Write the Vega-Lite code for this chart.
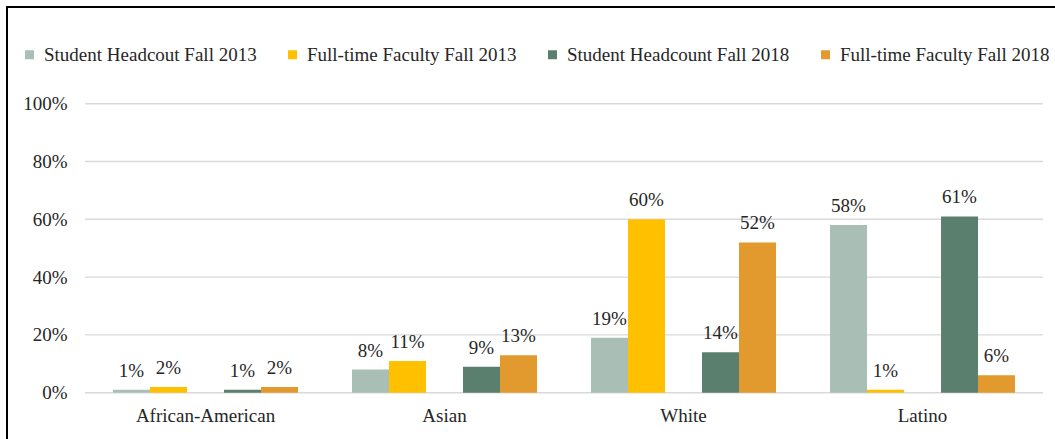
{
  "$schema": "https://vega.github.io/schema/vega-lite/v6.json",
  "width": 1060,
  "height": 440,
  "padding": {"left": 7, "top": 7, "right": 0, "bottom": 0},
  "background": "white",
  "config": {
    "font": "Liberation Serif, DejaVu Serif, serif",
    "view": {"stroke": "black", "strokeWidth": 2}
  },
  "datasets": {
    "grid": [{"v": 0}, {"v": 0.2}, {"v": 0.4}, {"v": 0.6}, {"v": 0.8}, {"v": 1.0}],
    "main": [
      {"group": "African-American", "series": "Student Headcout Fall 2013", "value": 0.01},
      {"group": "African-American", "series": "Full-time Faculty Fall 2013", "value": 0.02},
      {"group": "African-American", "series": "Student Headcount Fall 2018", "value": 0.01},
      {"group": "African-American", "series": "Full-time Faculty Fall 2018", "value": 0.02},
      {"group": "Asian", "series": "Student Headcout Fall 2013", "value": 0.08},
      {"group": "Asian", "series": "Full-time Faculty Fall 2013", "value": 0.11},
      {"group": "Asian", "series": "Student Headcount Fall 2018", "value": 0.09},
      {"group": "Asian", "series": "Full-time Faculty Fall 2018", "value": 0.13},
      {"group": "White", "series": "Student Headcout Fall 2013", "value": 0.19},
      {"group": "White", "series": "Full-time Faculty Fall 2013", "value": 0.60},
      {"group": "White", "series": "Student Headcount Fall 2018", "value": 0.14},
      {"group": "White", "series": "Full-time Faculty Fall 2018", "value": 0.52},
      {"group": "Latino", "series": "Student Headcout Fall 2013", "value": 0.58},
      {"group": "Latino", "series": "Full-time Faculty Fall 2013", "value": 0.01},
      {"group": "Latino", "series": "Student Headcount Fall 2018", "value": 0.61},
      {"group": "Latino", "series": "Full-time Faculty Fall 2018", "value": 0.06}
    ]
  },
  "layer": [
    {
      "data": {"name": "grid"},
      "mark": {"type": "rule", "color": "#d9d9d9", "strokeWidth": 1.4},
      "encoding": {
        "y": {
          "field": "v", "type": "quantitative",
          "scale": {"domain": [-0.1879, 1.3346], "nice": false, "zero": false},
          "axis": {
            "values": [0, 0.2, 0.4, 0.6, 0.8, 1.0], "format": ".0%", "grid": false,
            "domain": false, "ticks": false, "labelPadding": 0, "offset": -60,
            "labelFontSize": 19, "labelColor": "#262626", "labelFont": "Liberation Serif, DejaVu Serif, serif", "title": null
          }
        },
        "x": {"datum": 0, "type": "quantitative", "scale": {"domain": [-0.0814, 1.0251], "nice": false, "zero": false}, "axis": null},
        "x2": {"datum": 1}
      }
    },
    {
      "data": {"name": "main"},
      "layer": [
        {
          "mark": {"type": "bar"},
          "encoding": {
            "x": {
              "field": "group", "type": "nominal",
              "sort": ["African-American", "Asian", "White", "Latino"],
              "scale": {"paddingInner": 0.2259, "paddingOuter": 0.3305, "align": 0.671},
              "axis": {
                "orient": "bottom", "offset": -54.3, "domain": false, "ticks": false,
                "labelPadding": 14, "labelFontSize": 19, "labelAngle": 0,
                "labelColor": "#262626", "labelFont": "Liberation Serif, DejaVu Serif, serif", "title": null
              }
            },
            "xOffset": {
              "field": "series", "type": "nominal",
              "scale": {"domain": ["Student Headcout Fall 2013", "Full-time Faculty Fall 2013", "gap", "Student Headcount Fall 2018", "Full-time Faculty Fall 2018"], "paddingInner": 0, "paddingOuter": 0}
            },
            "y": {"field": "value", "type": "quantitative", "scale": {"domain": [-0.1879, 1.3346], "nice": false, "zero": false}},
            "y2": {"datum": 0},
            "color": {
              "field": "series", "type": "nominal",
              "scale": {
                "domain": ["Student Headcout Fall 2013", "Full-time Faculty Fall 2013", "Student Headcount Fall 2018", "Full-time Faculty Fall 2018"],
                "range": ["#a9bfb6", "#ffc000", "#5b7f6f", "#e2992d"]
              },
              "legend": {
                "orient": "none", "legendX": 13, "legendY": 38, "direction": "horizontal",
                "title": null, "symbolType": "square", "symbolSize": 81, "symbolStrokeWidth": 0,
                "labelFontSize": 19, "labelFont": "Liberation Serif, DejaVu Serif, serif", "labelColor": "#262626",
                "labelLimit": 400, "columnPadding": 26, "labelOffset": 5
              }
            }
          }
        },
        {
          "mark": {"type": "text", "baseline": "alphabetic", "dy": -13, "fontSize": 19, "color": "#262626", "font": "Liberation Serif, DejaVu Serif, serif"},
          "encoding": {
            "x": {"field": "group", "type": "nominal", "sort": ["African-American", "Asian", "White", "Latino"]},
            "xOffset": {"field": "series", "type": "nominal"},
            "y": {"field": "value", "type": "quantitative"},
            "text": {"field": "value", "type": "quantitative", "format": ".0%"}
          }
        }
      ]
    }
  ],
  "resolve": {"scale": {"x": "independent"}}
}
